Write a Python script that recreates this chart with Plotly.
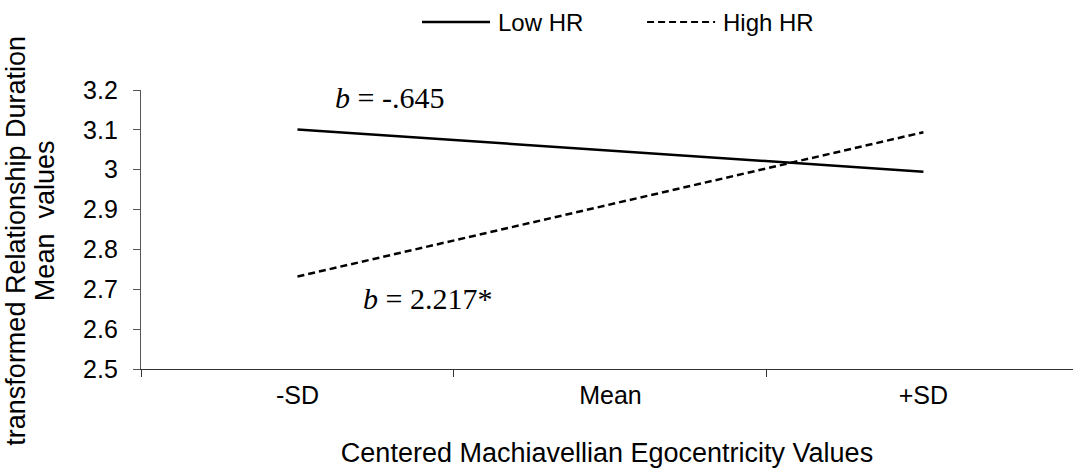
import plotly.graph_objects as go

# Simple-slope values for the two HR groups
categories = ["-SD", "Mean", "+SD"]
low_hr = [3.101, 3.048, 2.995]
high_hr = [2.732, 2.913, 3.094]
y_ticks = [2.5, 2.6, 2.7, 2.8, 2.9, 3.0, 3.1, 3.2]

sans = "Liberation Sans, Arial, sans-serif"
serif = "Liberation Serif, Times New Roman, serif"

fig = go.Figure()
fig.add_trace(go.Scatter(
    x=categories, y=low_hr, mode="lines", name="Low HR",
    line=dict(color="black", width=2.5),
))
fig.add_trace(go.Scatter(
    x=categories, y=high_hr, mode="lines", name="High HR",
    line=dict(color="black", width=2.5, dash="7px,4px"),
))

# Legend drawn as line samples plus labels above the plot
legend_y = 1.2437
fig.add_shape(type="line", xref="paper", yref="paper",
              x0=0.3015, x1=0.3745, y0=legend_y, y1=legend_y,
              line=dict(color="black", width=2.5))
fig.add_shape(type="line", xref="paper", yref="paper",
              x0=0.543, x1=0.616, y0=legend_y, y1=legend_y,
              line=dict(color="black", width=2, dash="7px,4px"))
fig.add_annotation(text="Low HR", xref="paper", yref="paper", x=0.381, y=legend_y,
                   xanchor="left", yanchor="middle", showarrow=False,
                   font=dict(family=sans, size=24, color="black"))
fig.add_annotation(text="High HR", xref="paper", yref="paper", x=0.622, y=legend_y,
                   xanchor="left", yanchor="middle", showarrow=False,
                   font=dict(family=sans, size=24, color="black"))

# Slope labels
fig.add_annotation(text="<i>b</i> = -.645", x=0.113, y=3.18, xref="x", yref="y",
                   xanchor="left", yanchor="middle", showarrow=False,
                   font=dict(family=serif, size=30, color="black"))
fig.add_annotation(text="<i>b</i> = 2.217*", x=0.203, y=2.678, xref="x", yref="y",
                   xanchor="left", yanchor="middle", showarrow=False,
                   font=dict(family=serif, size=30, color="black"))

# Two-line vertical axis title
fig.add_annotation(text="transformed Relationship Duration", xref="paper", yref="paper",
                   x=0, xshift=-125, y=0.46, textangle=-90,
                   xanchor="center", yanchor="middle", showarrow=False,
                   font=dict(family=sans, size=27, color="black"))
fig.add_annotation(text="Mean&nbsp; values", xref="paper", yref="paper",
                   x=0, xshift=-96, y=0.53, textangle=-90,
                   xanchor="center", yanchor="middle", showarrow=False,
                   font=dict(family=sans, size=27, color="black"))

fig.update_layout(
    width=1073, height=472,
    margin=dict(l=141, r=0, t=90, b=103),
    paper_bgcolor="white", plot_bgcolor="white",
    showlegend=False,
    font=dict(family=sans, size=25, color="black"),
)
fig.update_xaxes(
    type="category", range=[-0.5, 2.478],
    showline=True, linecolor="#333333", linewidth=1.3,
    ticks="outside", tickson="boundaries", ticklen=7, tickcolor="#333333",
    showgrid=False, zeroline=False,
    tickfont=dict(family=sans, size=25, color="black"),
    ticklabelstandoff=4,
    title=dict(text="Centered Machiavellian Egocentricity Values",
               font=dict(family=sans, size=27, color="black"), standoff=34),
)
fig.update_yaxes(
    range=[2.5, 3.2], tickvals=y_ticks,
    showline=True, linecolor="#555555", linewidth=1.3,
    ticks="outside", ticklen=7, tickcolor="#555555",
    showgrid=False, zeroline=False,
    tickfont=dict(family=sans, size=25, color="black"),
    ticklabelstandoff=10,
)

fig.write_html("out.html")
